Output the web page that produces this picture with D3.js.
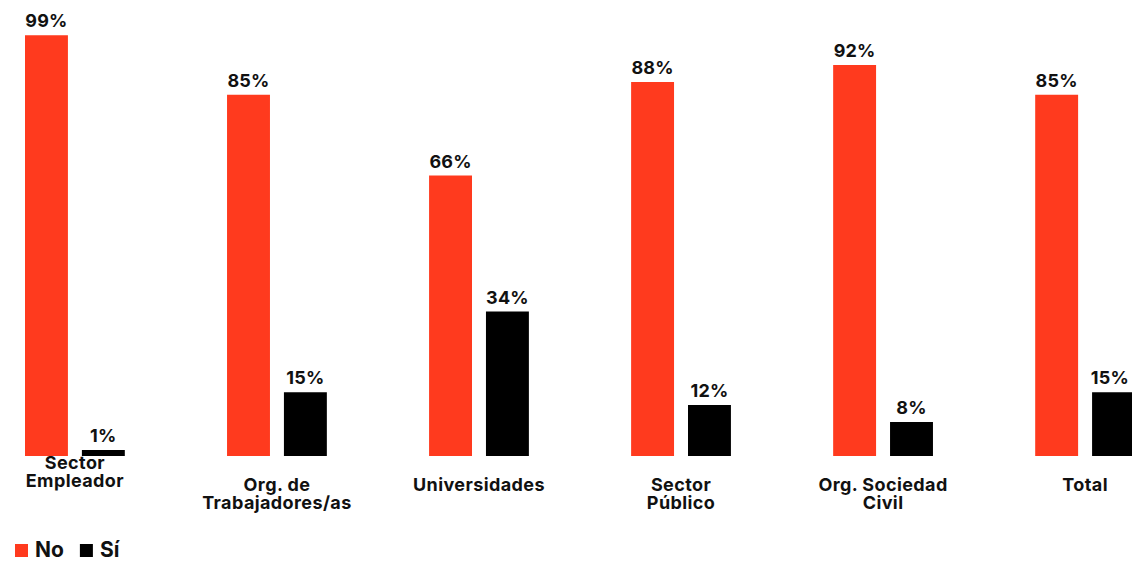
<!DOCTYPE html>
<html>
<head>
<meta charset="utf-8">
<script src="https://cdn.jsdelivr.net/npm/d3@7"></script>
<style>
  html, body { margin: 0; padding: 0; background: #fff; }
  svg { display: block; font-family: Inter, "Noto Sans", sans-serif; }
</style>
</head>
<body>
<svg id="chart" width="1132" height="562"></svg>
<script>
// Categories (each may span several lines) and the share answering No / Sí
const categories = [
  ["Sector", "Empleador"],
  ["Org. de", "Trabajadores/as"],
  ["Universidades"],
  ["Sector", "Público"],
  ["Org. Sociedad", "Civil"],
  ["Total"]
];
const seriesNames = ["No", "Sí"];
const valuesNo = [99, 85, 66, 88, 92, 85];
const valuesSi = [1, 15, 34, 12, 8, 15];
const seriesColors = ["#ff3a1e", "#000000"];

const width = 1132;
const svg = d3.select("#chart");
const keys = categories.map(c => c.join(" "));
const rows = keys.map((k, i) => ({ key: k, lines: categories[i], values: [valuesNo[i], valuesSi[i]] }));

const baseline = 456;
const y = d3.scaleLinear().domain([0, 100]).range([baseline, 31]);

const x0 = d3.scaleBand().domain(keys).range([25, 1135]).paddingInner(0.506).paddingOuter(0);
const x1 = d3.scaleBand().domain(seriesNames).range([0, x0.bandwidth()]).paddingInner(0.2456);
const color = d3.scaleOrdinal().domain(seriesNames).range(seriesColors);

const groups = svg.append("g").selectAll("g")
  .data(rows).join("g")
  .attr("transform", d => `translate(${x0(d.key)},0)`);

const bars = groups.selectAll("g.bar")
  .data(d => seriesNames.map((s, j) => ({ series: s, value: d.values[j], gx: x0(d.key) })))
  .join("g").attr("class", "bar");

bars.append("rect")
  .attr("x", d => x1(d.series))
  .attr("width", x1.bandwidth())
  .attr("y", d => Math.min(y(d.value), baseline - 6))
  .attr("height", d => Math.max(baseline - y(d.value), 6))
  .attr("fill", d => color(d.series));

// Value labels above bars, kept inside the right edge of the canvas
bars.append("text")
  .attr("y", d => Math.min(y(d.value), baseline - 6) - 8)
  .attr("text-anchor", "middle")
  .attr("font-size", 18)
  .attr("font-weight", 700)
  .attr("letter-spacing", 0.2)
  .attr("fill", "#111")
  .text(d => d.value + "%")
  .attr("x", function (d) {
    const cx = x1(d.series) + x1.bandwidth() / 2;
    const half = this.getComputedTextLength() / 2;
    return Math.min(cx, width - 3 - half - d.gx);
  });

// Category labels under each group; the first one sits tight under the axis
const labels = groups.append("text")
  .attr("text-anchor", "middle")
  .attr("font-size", 18)
  .attr("font-weight", 700)
  .attr("letter-spacing", 0.4)
  .attr("fill", "#111")
  .attr("transform", (d, i) => `translate(${x0.bandwidth() / 2},${i === 0 ? 469 : 491})`);
labels.selectAll("tspan")
  .data(d => d.lines)
  .join("tspan")
  .attr("x", 0)
  .attr("dy", (d, i) => i === 0 ? 0 : 17.5)
  .text(d => d);

// Legend
const legend = svg.append("g").attr("transform", "translate(15,557)");
let lx = 0;
seriesNames.forEach((s, j) => {
  const g = legend.append("g").attr("transform", `translate(${lx},0)`);
  g.append("rect").attr("x", 0).attr("y", -13).attr("width", 13).attr("height", 13).attr("fill", color(s));
  const t = g.append("text").attr("x", 20).attr("y", 0)
    .attr("font-size", 21).attr("font-weight", 700).attr("fill", "#111").text(s);
  lx += 20 + t.node().getComputedTextLength() + 16;
});
</script>
</body>
</html>
